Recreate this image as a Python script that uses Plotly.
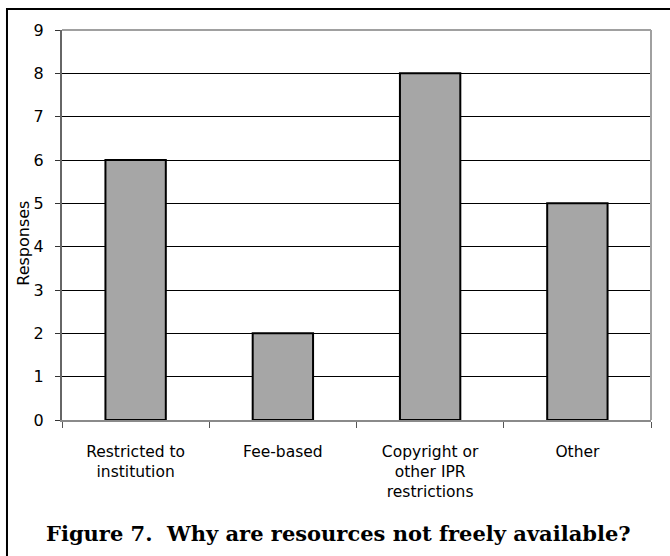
import plotly.graph_objects as go

# Survey responses: reasons resources are not freely available
categories = ["Restricted to institution", "Fee-based",
              "Copyright or other IPR restrictions", "Other"]
tick_labels = ["Restricted to<br>institution", "Fee-based",
               "Copyright or<br>other IPR<br>restrictions", "Other"]
responses = [6, 2, 8, 5]
y_ticks = list(range(0, 10))

fig = go.Figure(
    go.Bar(
        x=categories,
        y=responses,
        marker=dict(color="#A6A6A6", line=dict(color="#000000", width=2)),
        hoverinfo="x+y",
    )
)

fig.update_layout(
    width=670,
    height=556,
    margin=dict(l=62, r=19, t=30, b=136),
    paper_bgcolor="white",
    plot_bgcolor="white",
    bargap=0.59,
    showlegend=False,
    font=dict(family="DejaVu Sans, Verdana, sans-serif", size=16, color="#000000"),
)

fig.update_xaxes(
    type="category",
    tickmode="array",
    tickvals=categories,
    ticktext=tick_labels,
    tickson="boundaries",
    ticks="outside",
    ticklen=6,
    tickwidth=1,
    tickcolor="#555555",
    ticklabelstandoff=16,
    showline=True,
    linecolor="#8A8A8A",
    linewidth=2,
    showgrid=False,
    tickfont=dict(size=15.5),
)

fig.update_yaxes(
    range=[0, 9],
    tickmode="array",
    tickvals=y_ticks,
    ticks="outside",
    ticklen=5,
    tickwidth=1,
    tickcolor="#333333",
    ticklabelstandoff=8,
    showline=True,
    linecolor="#666666",
    linewidth=2,
    showgrid=True,
    gridcolor="#000000",
    gridwidth=1,
    zeroline=False,
    tickfont=dict(size=16),
)

# Plot-area frame (top and right edges in light grey)
fig.add_shape(type="line", xref="paper", yref="paper", x0=0, x1=1, y0=1, y1=1,
              line=dict(color="#A0A0A0", width=2), layer="above")
fig.add_shape(type="line", xref="paper", yref="paper", x0=1, x1=1, y0=0, y1=1,
              line=dict(color="#A0A0A0", width=2), layer="above")

# Outer figure frame
fig.add_shape(type="rect", xref="paper", yref="paper",
              x0=-0.0934, x1=1.2, y0=1.0538, y1=-0.5,
              line=dict(color="#000000", width=2), layer="above")

# Y-axis title
fig.add_annotation(
    text="Responses", xref="paper", yref="paper",
    x=-0.0645, y=0.452, textangle=-90, showarrow=False,
    font=dict(size=16, family="DejaVu Sans, Verdana, sans-serif"),
    xanchor="center", yanchor="middle",
)

# Figure caption
fig.add_annotation(
    text="<b>Figure 7.  Why are resources not freely available?</b>",
    xref="paper", yref="paper", x=0.4686, y=-0.290,
    showarrow=False, xanchor="center", yanchor="middle",
    font=dict(size=21, family="DejaVu Serif, serif", color="#000000"),
)

fig.write_html("out.html")
